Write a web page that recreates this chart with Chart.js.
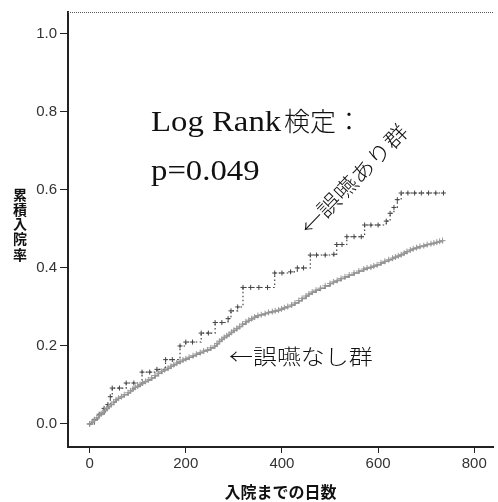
<!DOCTYPE html>
<html><head><meta charset="utf-8">
<script src="https://cdn.jsdelivr.net/npm/chart.js@4"></script>
<style>html,body{margin:0;padding:0;background:#fff}#wrap{width:498px;height:502px;position:relative}</style>
</head><body><div id="wrap"><canvas id="c" width="498" height="502"></canvas></div>
<script>
// ---- data ----
const xTicks = [0, 200, 400, 600, 800];
const yTicks = [0, 0.2, 0.4, 0.6, 0.8, 1.0];

// 誤嚥あり群 (dotted)
const aspDays = [0,10,20,30,38,43,47,62,76,92,109,125,140,158,172,188,200,214,232,247,261,275,288,294,308,319,335,352,370,385,400,418,432,445,459,472,490,508,514,525,535,550,565,572,585,600,617,625,633,640,648,662,676,690,705,720,736];
const aspCum  = [0,0.012,0.025,0.04,0.05,0.07,0.092,0.092,0.105,0.105,0.133,0.133,0.14,0.165,0.165,0.2,0.21,0.21,0.233,0.233,0.26,0.26,0.27,0.29,0.30,0.35,0.35,0.35,0.35,0.387,0.387,0.39,0.40,0.40,0.433,0.433,0.433,0.435,0.46,0.46,0.48,0.48,0.48,0.51,0.51,0.51,0.52,0.54,0.555,0.575,0.592,0.592,0.592,0.592,0.592,0.592,0.592];

// 誤嚥なし群 (solid gray)
const noAspDays = [0,5,10,15,20,24,28,32,36,40,45,50,55,60,66,72,80,85,90,95,100,105,110,116,122,129,136,143,150,156,163,169,175,181,188,194,200,207,215,222,230,237,245,252,260,265,270,275,280,285,290,295,300,306,312,318,325,331,337,343,350,357,365,372,380,386,393,399,405,412,420,427,435,442,450,456,463,471,480,490,500,507,515,523,531,540,550,560,570,577,585,591,598,606,614,622,630,636,642,648,654,660,667,673,680,687,695,702,710,716,722,728,734];
const noAspCum  = [0,0.005,0.01,0.016,0.022,0.026,0.03,0.035,0.04,0.045,0.05,0.056,0.062,0.066,0.07,0.075,0.08,0.085,0.09,0.094,0.097,0.101,0.105,0.109,0.113,0.118,0.124,0.13,0.135,0.139,0.143,0.148,0.152,0.156,0.16,0.164,0.167,0.171,0.175,0.179,0.183,0.187,0.19,0.195,0.2,0.206,0.212,0.217,0.222,0.226,0.23,0.235,0.24,0.245,0.25,0.256,0.262,0.266,0.27,0.274,0.278,0.28,0.283,0.286,0.288,0.29,0.292,0.295,0.298,0.301,0.305,0.31,0.316,0.322,0.328,0.333,0.338,0.343,0.348,0.354,0.36,0.364,0.368,0.373,0.377,0.382,0.387,0.392,0.397,0.4,0.402,0.405,0.408,0.413,0.417,0.421,0.425,0.428,0.431,0.434,0.438,0.442,0.446,0.449,0.452,0.455,0.457,0.46,0.462,0.464,0.466,0.468,0.47];

const yTitleChars = ['累','積','入','院','率'];
const xTitle = '入院までの日数';
const logRankLabel = 'Log Rank';
const logRankCJK = '検定：';
const pValueLabel = 'p=0.049';
const aspLabel = '←誤嚥あり群';
const noAspLabel = '←誤嚥なし群';

const toPts = (xs, ys) => xs.map((x, i) => ({x, y: ys[i]}));

const annot = {
  id: 'annot',
  afterDraw(chart) {
    const ctx = chart.ctx, a = chart.chartArea;
    ctx.save();
    // top dotted frame
    ctx.strokeStyle = '#555'; ctx.lineWidth = 1; ctx.setLineDash([1, 1]);
    ctx.beginPath(); ctx.moveTo(a.left, a.top + 0.5); ctx.lineTo(a.right, a.top + 0.5); ctx.stroke();
    ctx.setLineDash([]);
    ctx.fillStyle = '#111';
    // Log Rank text
    ctx.textBaseline = 'alphabetic'; ctx.textAlign = 'left';
    ctx.save(); ctx.translate(151, 131); ctx.scale(1.13, 1);
    ctx.font = '29px "Liberation Serif", serif';
    ctx.fillText(logRankLabel, 0, 0); ctx.restore();
    ctx.font = '300 26px "Noto Sans CJK JP"';
    ctx.fillText(logRankCJK, 284, 131);
    ctx.save(); ctx.translate(151, 180); ctx.scale(1.13, 1);
    ctx.font = '29px "Liberation Serif", serif';
    ctx.fillText(pValueLabel, 0, 0); ctx.restore();
    // group labels
    ctx.font = '300 21px "Noto Sans CJK JP"';
    ctx.textBaseline = 'middle';
    ctx.save(); ctx.translate(229, 356); ctx.scale(1.14, 1);
    ctx.fillText(noAspLabel, 0, 0); ctx.restore();
    ctx.save(); ctx.translate(304, 231); ctx.rotate(-46 * Math.PI / 180); ctx.scale(1.14, 1);
    ctx.fillText(aspLabel, 0, 0); ctx.restore();
    // y title stacked
    ctx.font = 'bold 14px "Noto Sans CJK JP"';
    ctx.textAlign = 'center';
    const ys = [195, 210, 224, 239, 255];
    yTitleChars.forEach((ch, i) => ctx.fillText(ch, 20, ys[i]));
    ctx.restore();
  }
};

new Chart(document.getElementById('c'), {
  type: 'line',
  data: {
    datasets: [
      {
        label: '誤嚥なし群', data: toPts(noAspDays, noAspCum), stepped: true,
        borderColor: '#808080', borderWidth: 1.6, pointStyle: 'cross', pointRadius: 3,
        pointBorderColor: '#999', pointBorderWidth: 1, fill: false
      },
      {
        label: '誤嚥あり群', data: toPts(aspDays, aspCum), stepped: true,
        borderColor: '#333', borderWidth: 1.1, borderDash: [1.5, 2.5], pointStyle: 'cross', pointRadius: 2.5,
        pointBorderColor: '#444', pointBorderWidth: 1, fill: false
      }
    ]
  },
  options: {
    responsive: false, animation: false, devicePixelRatio: 1,
    layout: { padding: { left: 0, right: 0, top: 12, bottom: 0 } },
    plugins: { legend: { display: false }, tooltip: { enabled: false } },
    scales: {
      x: {
        type: 'linear', min: -45, max: 839,
        afterBuildTicks: s => { s.ticks = xTicks.map(v => ({ value: v })); },
        afterFit: s => { s.height = 55; },
        grid: { display: true, drawOnChartArea: false, drawTicks: true, tickLength: 6, color: '#222' },
        border: { display: true, color: '#222', width: 2 },
        ticks: { color: '#333', padding: 2, font: { family: '"Liberation Sans Narrow", "Liberation Sans"', size: 15 }, maxRotation: 0 },
        title: { display: true, text: xTitle, color: '#111', font: { family: '"Noto Sans CJK JP"', size: 16, weight: 'bold' }, padding: { top: 0, bottom: 0 } }
      },
      y: {
        type: 'linear', min: -0.059, max: 1.056,
        afterBuildTicks: s => { s.ticks = yTicks.map(v => ({ value: v })); },
        afterFit: s => { s.width = 68; },
        grid: { display: true, drawOnChartArea: false, drawTicks: true, tickLength: 8, color: '#222' },
        border: { display: true, color: '#222', width: 2 },
        ticks: { color: '#333', padding: 3, font: { family: '"Liberation Sans Narrow", "Liberation Sans"', size: 15 }, callback: v => Number(v).toFixed(1) }
      }
    }
  },
  plugins: [annot]
});
</script></body></html>
